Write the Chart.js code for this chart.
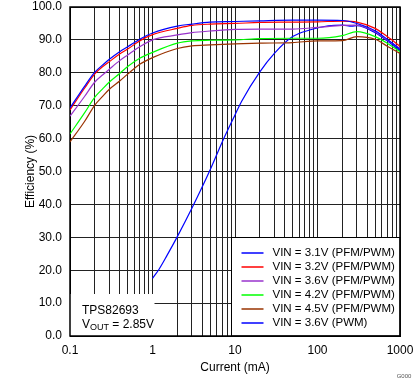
<!DOCTYPE html>
<html>
<head>
<meta charset="utf-8">
<script src="https://cdn.jsdelivr.net/npm/chart.js@4/dist/chart.umd.min.js"></script>
<style>
html,body{margin:0;padding:0;background:#fff;}
#wrap{position:relative;width:419px;height:382px;}
</style>
</head>
<body>
<div id="wrap"><canvas id="c" width="419" height="382"></canvas></div>
<script>
// ---- data ----
const currents = [0.1,0.15,0.2,0.25,0.3,0.4,0.5,0.7,1,2,3,5,10,20,50,100,200,300,500,700,1000];
const vin31 = [69.3,75.9,80.2,82.4,84.1,86.4,87.9,90.2,92.1,94.2,94.8,95.4,95.6,95.8,96.0,96.0,95.9,95.0,92.8,90.2,87.1];
const vin32 = [68.7,75.3,79.7,81.9,83.4,85.7,87.2,89.7,91.6,93.5,94.4,94.8,95.0,95.3,95.4,95.5,95.7,95.4,93.5,91.0,88.1];
const vin36 = [66.8,72.8,77.2,79.4,81.1,83.7,85.4,87.9,90.0,91.5,92.2,92.7,93.2,93.3,93.3,93.8,94.4,94.5,92.5,90.0,87.4];
const vin42 = [61.4,67.8,72.6,75.2,77.2,79.8,81.9,84.4,86.2,89.0,89.7,89.9,90.0,90.4,90.5,90.5,91.3,92.5,91.0,89.0,86.4];
const vin45 = [59.0,65.2,70.2,72.9,75.0,77.5,79.6,82.6,84.6,87.4,88.2,88.5,88.8,89.0,89.2,89.7,89.8,91.0,90.2,88.1,85.9];
const currentsPwm = [1,1.2,1.5,2,3,5,7,10,12,20,30,50,80,135,200,260,300,500,700,1000];
const pwm36 = [17.5,20.3,24.5,30.2,38.8,50.5,59.0,67.2,71.3,80.3,85.9,91.0,93.0,94.3,94.5,94.2,94.3,92.2,89.7,86.7];

const seriesLabels = ['VIN = 3.1V (PFM/PWM)','VIN = 3.2V (PFM/PWM)','VIN = 3.6V (PFM/PWM)','VIN = 4.2V (PFM/PWM)','VIN = 4.5V (PFM/PWM)','VIN = 3.6V (PWM)'];
const seriesColors = ['#0000FF','#FF0000','#9933CC','#00FF00','#993300','#0000FF'];

const xMajorTicks = [0.1,1,10,100,1000];
const xTickLabels = ['0.1','1','10','100','1000'];
const yTickValues = [0,10,20,30,40,50,60,70,80,90,100];
const yTickLabels = ['0.0','10.0','20.0','30.0','40.0','50.0','60.0','70.0','80.0','90.0','100.0'];

const xTitle = 'Current (mA)';
const yTitle = 'Efficiency (%)';
const noteLine1 = 'TPS82693';
const noteV = 'V', noteSub = 'OUT', noteRest = ' = 2.85V';
const graphId = 'G000';

// ---- build ----
const FONT = "'Liberation Sans', Arial, sans-serif";
const pts = (xs, ys) => xs.map((x, i) => ({x: x, y: ys[i]}));
const seriesData = [pts(currents, vin31), pts(currents, vin32), pts(currents, vin36), pts(currents, vin42), pts(currents, vin45), pts(currentsPwm, pwm36)];

const xAllTicks = [];
for (let e = -1; e <= 2; e++) for (let m = 1; m <= 9; m++) xAllTicks.push(+(m * Math.pow(10, e)).toPrecision(6));
xAllTicks.push(1000);

const GRID = '#222';

const overlay = {
  id: 'overlay',
  beforeDatasetsDraw(chart) {
    const ctx = chart.ctx, a = chart.chartArea;
    const xs = chart.scales.x, ys = chart.scales.y;
    ctx.save();
    // note box (white, hides grid)
    const nRight = Math.round(xs.getPixelForValue(1)) + 1.5;
    const nTop = Math.round(ys.getPixelForValue(12.8));
    ctx.fillStyle = '#fff';
    ctx.fillRect(a.left, nTop, nRight - a.left, a.bottom - nTop);
    // legend box
    const lLeft = Math.round(xs.getPixelForValue(9)) + 0.5;
    const lTop = Math.round(ys.getPixelForValue(30)) + 0.5;
    ctx.fillRect(lLeft, lTop, a.right - lLeft, a.bottom - lTop);
    ctx.strokeStyle = '#000';
    ctx.lineWidth = 1;
    ctx.strokeRect(lLeft, lTop, a.right - lLeft, a.bottom - lTop);
    // legend entries
    ctx.font = '11.5px ' + FONT;
    ctx.textBaseline = 'middle';
    ctx.textAlign = 'left';
    chart.data.datasets.forEach((ds, i) => {
      const y = Math.round(lTop + 15 + i * 14);
      ctx.strokeStyle = ds.borderColor;
      ctx.lineWidth = 1.5;
      ctx.beginPath();
      ctx.moveTo(lLeft + 10, y);
      ctx.lineTo(lLeft + 32, y);
      ctx.stroke();
      ctx.fillStyle = '#000';
      ctx.fillText(ds.label, lLeft + 41, y);
    });
    // note text
    ctx.fillStyle = '#000';
    ctx.font = '12px ' + FONT;
    ctx.fillText(noteLine1, a.left + 12, nTop + 17);
    let x = a.left + 12;
    const y2 = nTop + 31;
    ctx.fillText(noteV, x, y2);
    x += ctx.measureText(noteV).width;
    ctx.font = '9px ' + FONT;
    ctx.fillText(noteSub, x, y2 + 3);
    x += ctx.measureText(noteSub).width;
    ctx.font = '12px ' + FONT;
    ctx.fillText(noteRest, x, y2);
    // frame
    ctx.strokeStyle = '#000';
    ctx.lineWidth = 1.5;
    ctx.strokeRect(a.left, a.top, a.right - a.left, a.bottom - a.top);
    // graph id
    ctx.fillStyle = '#555';
    ctx.font = '6px ' + FONT;
    ctx.textAlign = 'center';
    ctx.fillText(graphId, a.right + 4, chart.height - 6);
    ctx.restore();
  }
};

new Chart(document.getElementById('c'), {
  type: 'line',
  data: {
    datasets: seriesData.map((d, i) => ({
      label: seriesLabels[i],
      data: d,
      borderColor: seriesColors[i],
      backgroundColor: seriesColors[i],
      borderWidth: 1.2,
      pointRadius: 0,
      fill: false,
      cubicInterpolationMode: 'monotone'
    }))
  },
  options: {
    responsive: false,
    devicePixelRatio: 1,
    animation: false,
    events: [],
    layout: {padding: {top: 7, right: 19, left: 0, bottom: 0}},
    plugins: {legend: {display: false}, tooltip: {enabled: false}},
    scales: {
      x: {
        type: 'logarithmic',
        min: 0.1, max: 1000,
        afterBuildTicks: (s) => { s.ticks = xAllTicks.map(v => ({value: v})); },
        afterFit: (s) => { s.height = 46; s.paddingLeft = 0; s.paddingRight = 0; },
        ticks: {
          autoSkip: false, maxRotation: 0, minRotation: 0, padding: 7,
          color: '#000', font: {family: FONT, size: 12},
          callback: (v) => {
            const k = xMajorTicks.findIndex(m => Math.abs(m - v) / m < 1e-6);
            return k >= 0 ? xTickLabels[k] : '';
          }
        },
        grid: {color: GRID, lineWidth: 1, drawTicks: false},
        border: {display: true, color: '#000'},
        title: {display: true, text: xTitle, color: '#000', font: {family: FONT, size: 12}, padding: {top: 0, bottom: 7}}
      },
      y: {
        type: 'linear',
        min: 0, max: 100,
        afterBuildTicks: (s) => { s.ticks = yTickValues.map(v => ({value: v})); },
        afterFit: (s) => { s.width = 70; s.paddingTop = 0; s.paddingBottom = 0; },
        ticks: {
          padding: 8, color: '#000', font: {family: FONT, size: 12},
          callback: (v) => { const k = yTickValues.indexOf(v); return k >= 0 ? yTickLabels[k] : ''; }
        },
        grid: {color: GRID, lineWidth: 1, drawTicks: false},
        border: {display: true, color: '#000'},
        title: {display: true, text: yTitle, color: '#000', font: {family: FONT, size: 12}, padding: {top: 23, bottom: 0}}
      }
    }
  },
  plugins: [overlay]
});
</script>
</body>
</html>
